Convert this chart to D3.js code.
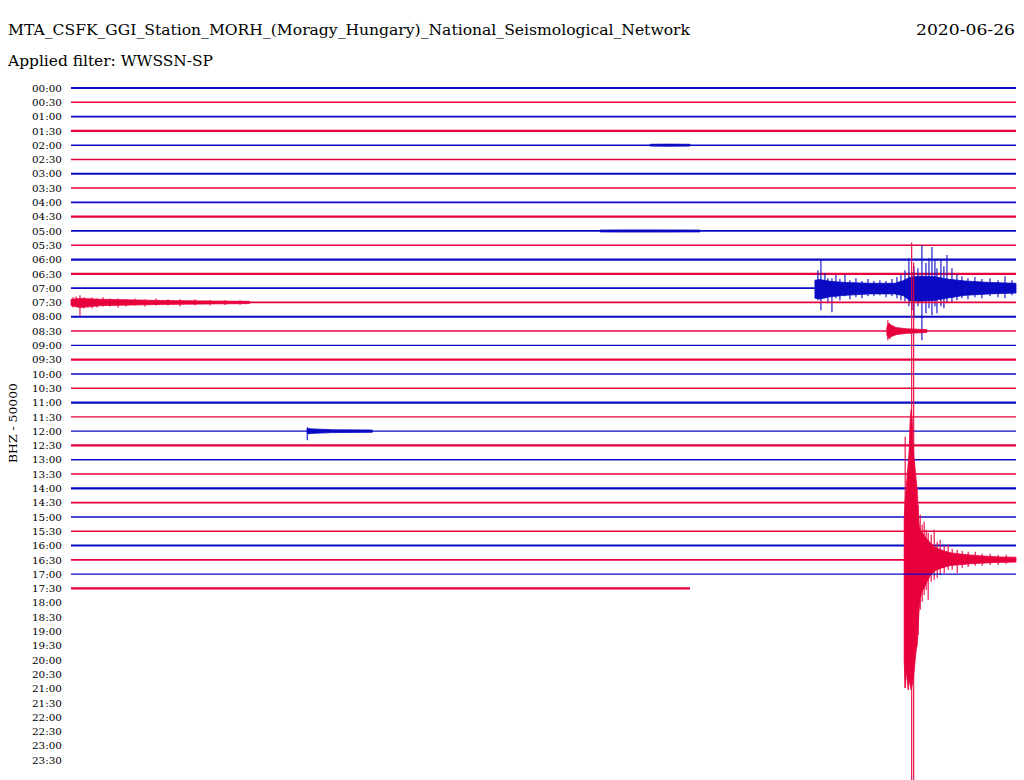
<!DOCTYPE html>
<html>
<head>
<meta charset="utf-8">
<script src="https://cdn.jsdelivr.net/npm/d3@7"></script>
<style>
  html, body { margin: 0; padding: 0; background: #ffffff; }
  svg { display: block; }
</style>
</head>
<body>
<svg id="chart" width="1024" height="780"></svg>
<script>
// ---------------- DATA ----------------
const stationTitle = "MTA_CSFK_GGI_Station_MORH_(Moragy_Hungary)_National_Seismological_Network";
const dateLabel = "2020-06-26";
const filterLabel = "Applied filter: WWSSN-SP";
const channelLabel = "BHZ - 50000";
const countsPerLine = 50;            // kilo-counts between two traces

const rowLabels = ["00:00","00:30","01:00","01:30","02:00","02:30","03:00","03:30",
  "04:00","04:30","05:00","05:30","06:00","06:30","07:00","07:30","08:00","08:30",
  "09:00","09:30","10:00","10:30","11:00","11:30","12:00","12:30","13:00","13:30",
  "14:00","14:30","15:00","15:30","16:00","16:30","17:00","17:30","18:00","18:30",
  "19:00","19:30","20:00","20:30","21:00","21:30","22:00","22:30","23:00","23:30"];
const rowSeconds = 1800;
const dataEndSeconds = 64179;        // 17:49:39, last sample of the day so far

// background noise half-amplitude per recorded trace (kilo-counts)
const rowNoise = [3.5,2.5,3.2,3.8,2.5,2.5,3.8,2.5,3.0,3.8,3.0,2.5,3.8,3.8,3.0,3.0,3.8,2.5,
  2.5,3.8,2.5,2.5,3.8,2.5,2.5,3.8,3.0,2.5,3.8,3.0,2.5,2.5,3.8,3.0,2.5,3.8];

// envelopes: [seconds after onset, upward amplitude, downward amplitude] (kilo-counts)
// spikes:    [seconds after onset, upward peak, downward peak] (kilo-counts)
const quakeEnvelope = [[0,140,350],[1.9,210,448],[3.8,245,385],[5.7,298,420],[7.6,333,455],
  [9.5,385,420],[11.4,490,438],[13.3,525,455],[15.2,490,438],[17.1,385,420],[19.1,350,385],
  [21,315,350],[22.9,280,315],[24.8,245,298],[26.7,160,230],[28.6,120,170],[30.5,105,135],
  [34.3,95,110],[40,80,90],[49.5,60,55],[59,44,38],[68.6,36,30],[78,30,25],[87.6,25,20],
  [106.7,20,17],[125.7,17,14],[144.8,14,12],[163.8,12,10],[182.9,10,9],[213,9,8]];
const quakeSpikes = [[1.9,430,448],[14.3,1110,805],[18.1,1040,805],[26.7,193,263],
  [30.5,158,175],[34.3,123,147],[38.1,133,123],[41.9,105,105],[45.7,95,140],[51.4,88,77],
  [57.2,105,70],[62.9,63,63],[68.6,70,53],[76.2,49,46],[83.8,53,35],[91.4,39,35],
  [101,35,46],[110.5,32,28],[121.9,28,25],[135.3,28,21],[148.6,21,21],[163.8,21,18],
  [179,18,18],[194.3,18,14]];

const teleseismEnvelope = [[0,28,35],[9.5,30,38],[28.6,24,30],[57,20,25],[105,17,20],
  [152,17,20],[168,26,26],[181,38,44],[200,42,46],[229,40,42],[251,32,35],[286,25,25],
  [333,20,20],[383,17,17]];
const teleseismSpikes = [[5.7,63,42],[11.4,98,77],[19,53,35],[24.8,35,53],[32.4,35,84],
  [40,46,35],[47.6,32,42],[57.2,49,28],[66.7,28,39],[78.1,35,32],[89.5,25,35],[101,32,28],
  [112.4,25,28],[123.8,28,25],[135.3,25,32],[146.7,32,28],[156.2,39,35],[163.8,49,42],
  [171.5,63,46],[179,105,63],[184.8,56,77],[188.6,77,105],[196.2,70,63],[203.8,150,182],
  [211.5,88,88],[217.2,105,70],[222.9,144,95],[228.6,98,63],[232.4,70,88],[240,98,63],
  [245.7,77,70],[251.5,116,53],[261,70,49],[270.5,49,42],[280,42,35],[291.5,35,39],
  [304.8,39,32],[318,32,35],[333.4,35,28],[348.6,28,32],[362,42,35],[375.3,28,25]];

const codaEnvelope = [[0,11,11],[17,14,18],[57,11,11],[171,7,7],[270,5,5],[340,4,4]];
const codaSpikes = [[3.8,18,18],[9.5,21,14],[17.1,25,46],[24.8,18,21],[32.4,14,18],
  [40,18,21],[49.5,14,18],[61,18,14],[74.3,14,14],[89.5,14,18],[104.8,11,14],[121.9,14,11],
  [141,11,14],[162,14,11],[184.8,11,11],[207.6,11,14],[236.2,11,11],[264.8,9,11],
  [293.4,9,9],[322,8,8]];

const localEnvelope = [[0,14,14],[3.8,28,25],[9.5,18,18],[19,12,12],[38,8,8],[76,5,5]];
const localSpikes = [[1.9,38,32],[5.7,25,28],[11.4,21,18]];

const noonEnvelope = [[0,8,8],[5.7,8,8],[48,5,5],[124,4,4]];
const noonSpikes = [[0,14,32],[3.8,11,11]];

const morningEnvelope = [[0,3.3,3.3],[38,3.8,3.8],[114,3.8,3.8],[190,3.3,3.3]];
const nightEnvelope = [[0,3.2,3.2],[38,3.8,3.8],[76,3.2,3.2]];

const events = [
  { row: "02:00", onset: 1103, env: nightEnvelope,     spikes: [] },
  { row: "05:00", onset: 1008, env: morningEnvelope,   spikes: [] },
  { row: "07:00", onset: 1417, env: teleseismEnvelope, spikes: teleseismSpikes },
  { row: "07:30", onset: 0,    env: codaEnvelope,      spikes: codaSpikes },
  { row: "08:30", onset: 1554, env: localEnvelope,     spikes: localSpikes },
  { row: "12:00", onset: 450,  env: noonEnvelope,      spikes: noonSpikes },
  { row: "16:30", onset: 1587, env: quakeEnvelope,     spikes: quakeSpikes }
];

// ---------------- DRAWING ----------------
const blue = "#0a0ac4", red = "#e8003d";
const fontFam = "'DejaVu Serif', 'Liberation Serif', serif";
const svg = d3.select("#chart");
svg.append("rect").attr("width", 1024).attr("height", 780).attr("fill", "#ffffff");

const x = d3.scaleLinear().domain([0, rowSeconds]).range([71, 1016]);
const y = d3.scalePoint().domain(rowLabels).range([88, 760]);
const amp = d3.scaleLinear().domain([0, countsPerLine]).range([0, y.step()]);

// titles
svg.append("text").attr("x", 8).attr("y", 35).attr("font-family", fontFam)
  .attr("font-size", 14).attr("textLength", 682).attr("lengthAdjust", "spacingAndGlyphs")
  .text(stationTitle);
svg.append("text").attr("x", 1015).attr("y", 35).attr("text-anchor", "end").attr("font-family", fontFam)
  .attr("font-size", 14).attr("textLength", 99).attr("lengthAdjust", "spacingAndGlyphs")
  .text(dateLabel);
svg.append("text").attr("x", 8).attr("y", 66).attr("font-family", fontFam)
  .attr("font-size", 14).attr("textLength", 205).attr("lengthAdjust", "spacingAndGlyphs")
  .text(filterLabel);
svg.append("text").attr("transform", "translate(17,423) rotate(-90)").attr("text-anchor", "middle")
  .attr("font-family", fontFam).attr("font-size", 11).attr("textLength", 80)
  .attr("lengthAdjust", "spacingAndGlyphs").text(channelLabel);

// row axis
const axis = svg.append("g").attr("transform", "translate(66,0)")
  .call(d3.axisLeft(y).tickSize(0).tickPadding(4));
axis.select(".domain").remove();
axis.selectAll("text").attr("font-family", fontFam).attr("font-size", 10)
  .attr("fill", "#000").attr("textLength", 30).attr("lengthAdjust", "spacingAndGlyphs");

// traces
const traces = svg.append("g");
rowLabels.forEach((lab, i) => {
  const start = i * rowSeconds;
  if (start >= dataEndSeconds) return;
  const end = Math.min(rowSeconds, dataEndSeconds - start);
  const col = i % 2 === 0 ? blue : red;
  const g = traces.append("g");
  const y0 = y(lab);
  g.append("line").attr("x1", x(0)).attr("x2", x(end)).attr("y1", y0).attr("y2", y0)
    .attr("stroke", col).attr("stroke-width", Math.max(1, 2 * amp(rowNoise[i])));
  events.filter(e => e.row === lab).forEach(e => {
    const area = d3.area()
      .x(d => x(e.onset + d[0]))
      .y0(d => y0 + amp(d[2]))
      .y1(d => y0 - amp(d[1]));
    g.append("path").attr("d", area(e.env)).attr("fill", col)
      .attr("stroke", col).attr("stroke-width", 0.8);
    g.selectAll(null).data(e.spikes).join("line")
      .attr("x1", d => x(e.onset + d[0])).attr("x2", d => x(e.onset + d[0]))
      .attr("y1", d => y0 - amp(d[1])).attr("y2", d => y0 + amp(d[2]))
      .attr("stroke", col).attr("stroke-width", 1.1);
  });
});
</script>
</body>
</html>
